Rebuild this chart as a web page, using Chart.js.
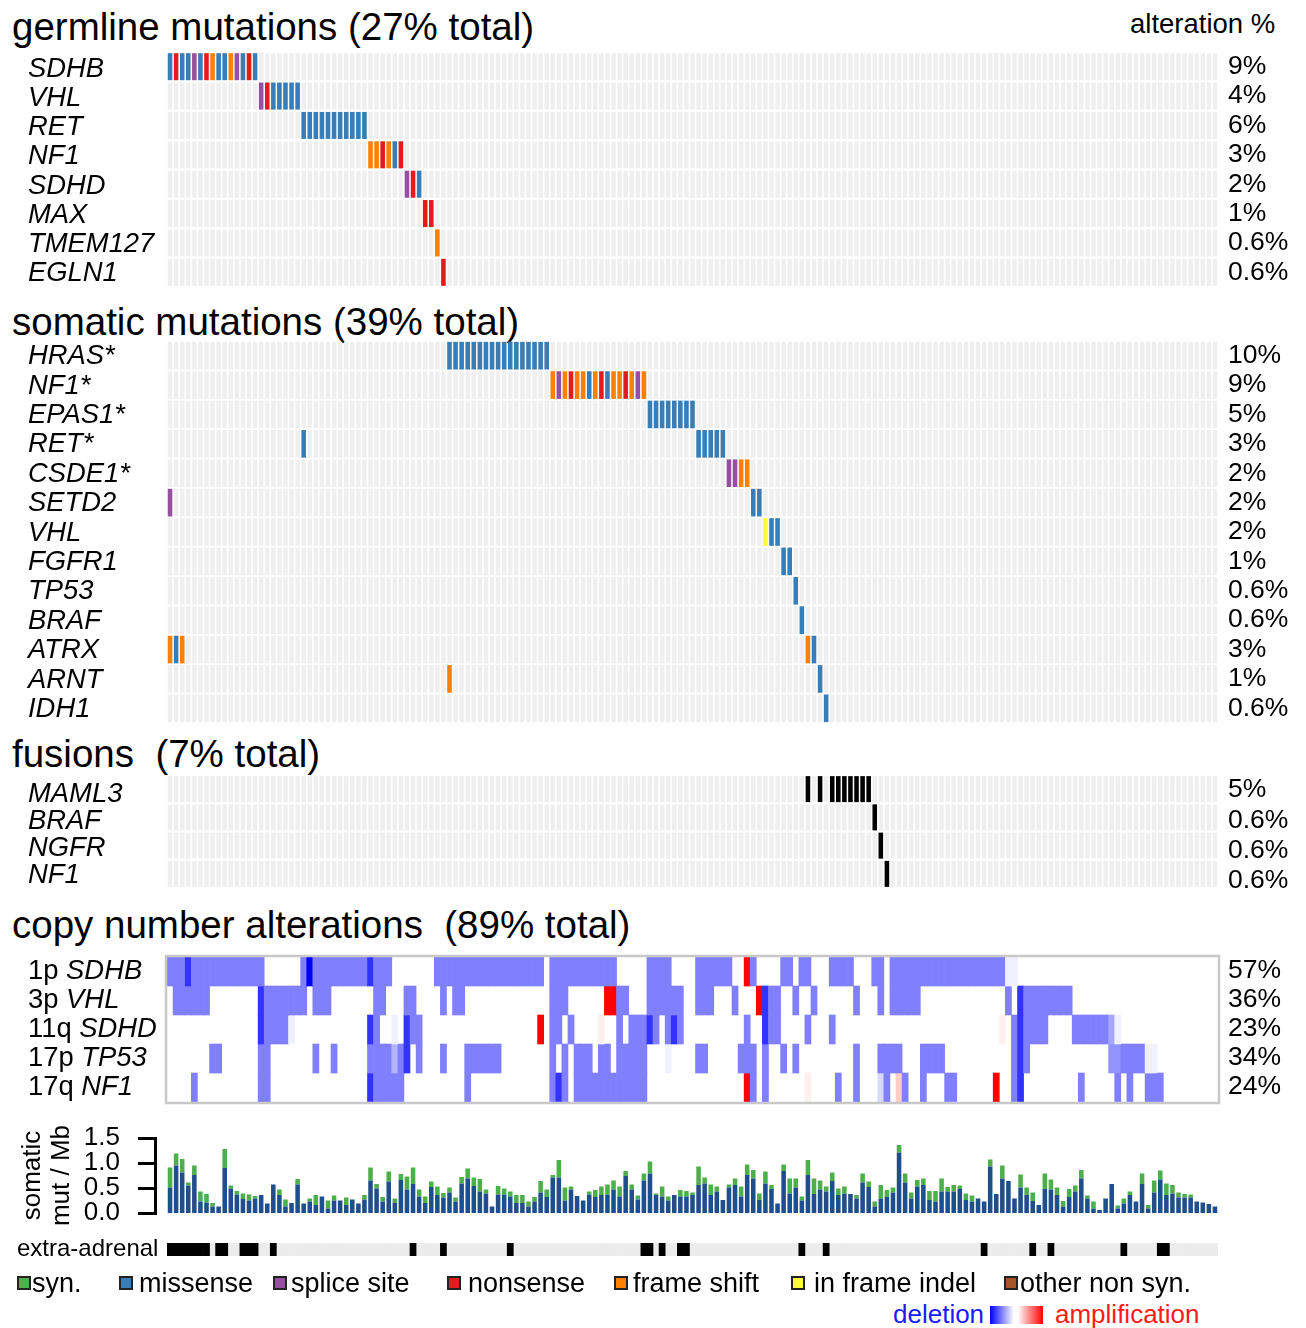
<!DOCTYPE html>
<html><head><meta charset="utf-8">
<script src="https://cdn.jsdelivr.net/npm/chart.js@4.4.1/dist/chart.umd.min.js"></script>
<style>
html,body{margin:0;padding:0;background:#fff;}
body{width:1306px;height:1328px;position:relative;overflow:hidden;font-family:"Liberation Sans",Arial,Helvetica,sans-serif;color:#000;}
.abs{position:absolute;white-space:pre;}
canvas{position:absolute;left:0;}
.title{font-size:38.5px;line-height:38px;left:12px;}
.lg{font-size:27px;line-height:26px;top:1270px;}
.sq{position:absolute;top:1276px;width:10px;height:10px;border:2px solid #222;}
</style></head><body>
<div class="abs title" style="top:8px">germline mutations (27% total)</div>
<div class="abs" style="left:1130px;top:11px;font-size:27.5px;line-height:26px">alteration %</div>
<div class="abs title" style="top:303px">somatic mutations (39% total)</div>
<div class="abs title" style="top:735px">fusions  (7% total)</div>
<div class="abs title" style="top:906px">copy number alterations  (89% total)</div>

<canvas id="cGerm" width="1306" height="259" style="top:40px"></canvas>
<canvas id="cSom" width="1306" height="406" style="top:329px"></canvas>
<canvas id="cFus" width="1306" height="137" style="top:763px"></canvas>
<canvas id="cCna" width="1306" height="169" style="top:945px"></canvas>
<canvas id="cBur" width="1306" height="143" style="top:1104px"></canvas>
<canvas id="cAxis" width="160" height="143" style="top:1104px"></canvas>
<canvas id="cExt" width="1306" height="33" style="top:1233px"></canvas>

<div id="legend"></div>
<div class="abs" style="left:893px;top:1301px;font-size:26px;line-height:26px;color:#1a1aff">deletion</div>
<div class="abs" style="left:990px;top:1306px;width:53px;height:18px;background:linear-gradient(to right,#0000ff 0%,#ffffff 45%,#ffffff 52%,#ff0000 100%)"></div>
<div class="abs" style="left:1055px;top:1301px;font-size:26px;line-height:26px;color:#ff1a1a">amplification</div>

<script>
// ---------------- DATA ----------------
const N_SAMPLES = 173;

// mutation type codes: M missense, N nonsense, S splice site, F frame shift, I in frame indel, O other non syn., K fusion
const germlineGenes = ['SDHB','VHL','RET','NF1','SDHD','MAX','TMEM127','EGLN1'];
const germlinePct = ['9%','4%','6%','3%','2%','1%','0.6%','0.6%'];
const germSDHB = [[0,'M'],[1,'N'],[2,'M'],[3,'M'],[4,'S'],[5,'M'],[6,'N'],[7,'F'],[8,'M'],[9,'M'],[10,'F'],[11,'S'],[12,'M'],[13,'N'],[14,'M']];
const germVHL = [[15,'S'],[16,'N'],[17,'M'],[18,'M'],[19,'M'],[20,'M'],[21,'M']];
const germRET = [[22,'M'],[23,'M'],[24,'M'],[25,'M'],[26,'M'],[27,'M'],[28,'M'],[29,'M'],[30,'M'],[31,'M'],[32,'M']];
const germNF1 = [[33,'F'],[34,'F'],[35,'N'],[36,'F'],[37,'M'],[38,'N']];
const germSDHD = [[39,'S'],[40,'N'],[41,'M']];
const germMAX = [[42,'N'],[43,'N']];
const germTMEM127 = [[44,'F']];
const germEGLN1 = [[45,'N']];

const somaticGenes = ['HRAS*','NF1*','EPAS1*','RET*','CSDE1*','SETD2','VHL','FGFR1','TP53','BRAF','ATRX','ARNT','IDH1'];
const somaticPct = ['10%','9%','5%','3%','2%','2%','2%','1%','0.6%','0.6%','3%','1%','0.6%'];
const somHRAS = [[46,'M'],[47,'M'],[48,'M'],[49,'M'],[50,'M'],[51,'M'],[52,'M'],[53,'M'],[54,'M'],[55,'M'],[56,'M'],[57,'M'],[58,'M'],[59,'M'],[60,'M'],[61,'M'],[62,'M']];
const somNF1 = [[63,'F'],[64,'S'],[65,'F'],[66,'N'],[67,'F'],[68,'F'],[69,'M'],[70,'F'],[71,'N'],[72,'M'],[73,'F'],[74,'F'],[75,'N'],[76,'F'],[77,'S'],[78,'F']];
const somEPAS1 = [[79,'M'],[80,'M'],[81,'M'],[82,'M'],[83,'M'],[84,'M'],[85,'M'],[86,'M']];
const somRET = [[22,'M'],[87,'M'],[88,'M'],[89,'M'],[90,'M'],[91,'M']];
const somCSDE1 = [[92,'S'],[93,'S'],[94,'F'],[95,'F']];
const somSETD2 = [[0,'S'],[96,'M'],[97,'M']];
const somVHL = [[98,'I'],[99,'M'],[100,'M']];
const somFGFR1 = [[101,'M'],[102,'M']];
const somTP53 = [[103,'M']];
const somBRAF = [[104,'M']];
const somATRX = [[0,'F'],[1,'M'],[2,'F'],[105,'F'],[106,'M']];
const somARNT = [[46,'F'],[107,'M']];
const somIDH1 = [[108,'M']];

const fusionGenes = ['MAML3','BRAF','NGFR','NF1'];
const fusionPct = ['5%','0.6%','0.6%','0.6%'];
const fusMAML3 = [105,107,109,110,111,112,113,114,115];
const fusBRAF = [116];
const fusNGFR = [117];
const fusNF1 = [118];

// copy number: [fromSample, toSample, level]  (negative = deletion, positive = amplification)
const cnaArms = ['1p','3p','11q','17p','17q'];
const cnaGenes = ['SDHB','VHL','SDHD','TP53','NF1'];
const cnaPct = ['57%','36%','23%','34%','24%'];
const cna1p = [[0,2,-1],[3,3,-1.6],[4,15,-1],[22,22,-1],[23,23,-2],[24,32,-1],[33,33,-1.6],[34,36,-1],[44,61,-1],[63,73,-1],[79,82,-1],[87,92,-1],[95,95,2],[96,96,-1],[101,102,-1],[104,105,-1],[109,112,-1],[116,117,-1],[119,137,-1],[138,139,-0.12]];
const cna3p = [[1,6,-1],[15,15,-1.6],[16,22,-1],[24,26,-1],[34,35,-1],[39,40,-1],[45,45,-1],[47,48,-1],[63,65,-1],[72,73,2],[74,75,-1],[79,84,-1],[87,89,-1],[93,93,-1],[97,97,2],[98,98,-1.6],[99,100,-1],[103,103,-1],[106,106,-1],[113,113,-1],[117,117,-1],[119,123,-1],[138,138,-1],[140,140,-1.6],[141,148,-1]];
const cna11q = [[15,15,-1.6],[16,19,-1],[20,20,-0.12],[33,33,-1.6],[34,34,-1],[37,37,-0.12],[39,39,-1.6],[40,41,-1],[61,61,2],[63,64,-1],[66,66,-1],[71,71,0.12],[74,74,-1],[76,78,-1],[79,79,-1.6],[80,80,-1],[82,82,-1],[83,83,-1.6],[84,84,-1],[95,95,-1],[98,98,-1.6],[99,100,-1],[105,105,-1],[109,109,-1],[137,137,0.12],[139,139,-1],[140,140,-1.6],[141,144,-1],[149,154,-1],[155,155,-0.7],[156,156,-0.12]];
const cna17p = [[7,8,-1],[15,16,-1],[24,24,-1],[27,27,-1],[33,36,-1],[37,37,-0.6],[38,38,-1],[39,39,-1.6],[41,41,-1],[45,45,-1],[49,54,-1],[63,63,-1],[65,65,-1],[67,69,-1],[71,72,-1],[74,78,-1],[82,82,-0.12],[87,88,-1],[94,96,-1],[98,98,-1],[101,101,-1],[103,103,-1],[113,113,-1],[117,120,-1],[124,127,-1],[139,139,-1],[140,140,-1.6],[141,141,-1],[155,156,-0.85],[157,160,-1],[161,162,-0.12]];
const cna17q = [[4,4,-1],[15,16,-1],[33,33,-1.6],[34,38,-1],[49,49,-1],[63,63,-1],[64,64,-1.6],[65,65,-1],[67,78,-1],[95,95,2],[96,96,-1],[98,98,-1],[105,105,0.12],[110,110,-1],[113,113,-1],[117,117,-0.3],[118,118,-1],[120,120,0.4],[121,121,-1],[124,124,-1],[128,129,-1],[136,136,2],[139,139,-1],[140,140,-1.6],[150,150,-1],[156,156,-1],[158,158,-1],[161,163,-1]];

// somatic mutations per Mb
const burdenNonsyn = [0.51,0.95,0.81,0.55,0.76,0.23,0.21,0.13,0.13,0.90,
0.48,0.37,0.28,0.25,0.29,0.36,0.19,0.57,0.36,0.13,
0.20,0.57,0.19,0.23,0.16,0.33,0.09,0.25,0.25,0.16,
0.27,0.19,0.27,0.65,0.49,0.23,0.63,0.20,0.66,0.47,
0.58,0.33,0.20,0.52,0.36,0.31,0.41,0.23,0.59,0.69,
0.54,0.43,0.39,0.13,0.37,0.37,0.33,0.20,0.20,0.13,
0.23,0.41,0.32,0.71,0.71,0.25,0.47,0.34,0.25,0.37,
0.32,0.36,0.37,0.47,0.33,0.74,0.47,0.27,0.65,0.79,
0.36,0.33,0.25,0.36,0.33,0.33,0.36,0.56,0.59,0.36,
0.43,0.26,0.51,0.56,0.33,0.76,0.69,0.26,0.59,0.48,
0.19,0.84,0.39,0.51,0.25,0.76,0.38,0.47,0.43,0.64,
0.36,0.39,0.38,0.29,0.61,0.52,0.13,0.29,0.32,0.41,
1.21,0.61,0.29,0.53,0.56,0.26,0.23,0.43,0.43,0.43,
0.48,0.26,0.23,0.29,0.23,0.93,0.38,0.69,0.64,0.29,
0.51,0.36,0.24,0.16,0.48,0.47,0.36,0.13,0.32,0.43,
0.69,0.29,0.09,0.06,0.29,0.58,0.09,0.19,0.36,0.23,
0.58,0.09,0.41,0.67,0.36,0.39,0.31,0.31,0.31,0.23,
0.21,0.18,0.13];
const burdenSyn = [0.40,0.24,0.27,0.06,0.19,0.20,0.17,0.07,0,0.38,
0.07,0.07,0.11,0.12,0.05,0,0,0,0.11,0.14,
0,0.11,0,0.06,0.20,0,0.16,0.10,0,0.15,
0,0,0.09,0.26,0.09,0.09,0.20,0.09,0.12,0.26,
0.33,0.14,0.13,0.11,0.17,0.09,0.10,0.08,0.13,0.20,
0.17,0.25,0.08,0,0.17,0.12,0.10,0.16,0.16,0.10,
0.09,0.23,0.15,0.05,0.35,0.26,0.06,0,0,0.06,
0.14,0.17,0.20,0.18,0.20,0.10,0.10,0.08,0.14,0.24,
0.03,0.20,0.08,0,0.13,0.11,0.05,0.37,0.12,0.21,
0.10,0,0.06,0.13,0.20,0.21,0.17,0.13,0.24,0.08,
0,0.13,0.30,0.18,0.08,0.30,0.31,0.18,0.10,0.17,
0.13,0.14,0,0.07,0.18,0.11,0.10,0.27,0.14,0.10,
0.15,0.18,0.12,0.13,0.13,0.18,0.21,0.26,0.09,0.13,
0.07,0.13,0.12,0,0,0.14,0,0.26,0,0,
0.26,0.15,0.17,0,0.31,0.20,0.15,0.11,0.16,0.12,
0.17,0.06,0.14,0,0,0,0.06,0.10,0.07,0,
0.21,0.07,0.24,0.18,0.23,0.17,0.10,0.07,0.06,0,
0,0,0];
const burdenTicks = [0, 0.5, 1.0, 1.5];

const extraAdrenal = [0,1,2,3,4,5,6,8,9,12,13,14,17,40,45,56,78,79,81,84,85,104,108,134,142,145,157,163,164];

// ---------------- STYLE ----------------
const FONT = '"Liberation Sans", Arial, Helvetica, sans-serif';
Chart.defaults.font.family = FONT;
Chart.defaults.color = '#000';
const COLORS = {M:'#377eb8',N:'#e41a1c',S:'#984ea3',F:'#ff7f00',I:'#ffff33',O:'#a65628',K:'#000000'};
const GRID_BG = '#efefef';
const sampleLabels = Array.from({length:N_SAMPLES},(_,i)=>String(i+1));

const rowLabelPlugin = {
  id:'rowLabels',
  afterDraw(chart, args, o){
    if(!o || !o.rows) return;
    const ctx = chart.ctx, y = chart.scales.y;
    ctx.save(); ctx.textBaseline='middle'; ctx.fillStyle='#000';
    o.rows.forEach((row,i)=>{
      const c = y.getPixelForValue(i);
      const py = c + (o.dy||0) + i*(o.dyStep||0);
      let x = o.leftX;
      row.parts.forEach(p=>{
        ctx.font = (p.italic?'italic ':'') + o.size + 'px ' + FONT;
        ctx.fillText(p.text, x, py);
        x += ctx.measureText(p.text).width;
      });
      if(row.right){
        ctx.font = o.rightSize + 'px ' + FONT;
        ctx.fillText(row.right, o.rightX, c + (o.rdy||0) + i*(o.rdyStep||0));
      }
    });
    ctx.restore();
  }
};
const frameBoxPlugin = {
  id:'frameBox',
  afterDraw(chart, args, o){
    if(!o || !o.color) return;
    const a = chart.chartArea, ctx = chart.ctx;
    ctx.save(); ctx.strokeStyle=o.color; ctx.lineWidth=o.width;
    ctx.strokeRect(a.left-1, a.top-1, a.right-a.left+2, a.bottom-a.top+2);
    ctx.restore();
  }
};
Chart.register(rowLabelPlugin, frameBoxPlugin);

function gridDatasets(rows, h){
  const ds=[];
  rows.forEach((muts,r)=>{
    ds.push({data:sampleLabels.map(()=>[r-h,r+h]), backgroundColor:GRID_BG, grouped:false, order:2, barPercentage:0.75, categoryPercentage:1});
    const data=new Array(N_SAMPLES).fill(null), col=new Array(N_SAMPLES).fill('rgba(0,0,0,0)');
    muts.forEach(([i,t])=>{ data[i]=[r-h,r+h]; col[i]=COLORS[t]; });
    ds.push({data, backgroundColor:col, grouped:false, order:1, barPercentage:0.75, categoryPercentage:1});
  });
  return ds;
}
function baseOpts(nRows, pad, labelOpts){
  return {
    responsive:false, animation:false, devicePixelRatio:1, events:[],
    layout:{padding:{left:167,right:88,top:pad,bottom:pad}},
    plugins:{legend:{display:false}, tooltip:{enabled:false}, rowLabels:labelOpts},
    scales:{ x:{display:false, offset:true}, y:{display:false, type:'linear', reverse:true, min:-0.5, max:nRows-0.5} }
  };
}
function geneRows(genes,pct){ return genes.map((g,i)=>({parts:[{text:g,italic:true}], right:pct[i]})); }

new Chart(document.getElementById('cGerm'), {type:'bar',
  data:{labels:sampleLabels, datasets:gridDatasets([germSDHB,germVHL,germRET,germNF1,germSDHD,germMAX,germTMEM127,germEGLN1],0.46)},
  options:baseOpts(8,12,{rows:geneRows(germlineGenes,germlinePct), leftX:28, rightX:1228, size:27.4, rightSize:26.5, dy:2.5, dyStep:-0.2, rdy:0})});

new Chart(document.getElementById('cSom'), {type:'bar',
  data:{labels:sampleLabels, datasets:gridDatasets([somHRAS,somNF1,somEPAS1,somRET,somCSDE1,somSETD2,somVHL,somFGFR1,somTP53,somBRAF,somATRX,somARNT,somIDH1],0.47)},
  options:baseOpts(13,12,{rows:geneRows(somaticGenes,somaticPct), leftX:28, rightX:1228, size:27.4, rightSize:26.5, dy:1, rdy:0})});

new Chart(document.getElementById('cFus'), {type:'bar',
  data:{labels:sampleLabels, datasets:gridDatasets([fusMAML3,fusBRAF,fusNGFR,fusNF1].map(a=>a.map(i=>[i,'K'])),0.46)},
  options:baseOpts(4,12,{rows:geneRows(fusionGenes,fusionPct), leftX:28, rightX:1228, size:27.4, rightSize:26.5, dy:5, dyStep:-1.2, rdy:1, rdyStep:2})});

function cnaColor(v){
  const t=Math.min(1,Math.abs(v)/2), c=Math.round(255*(1-t));
  return v<0 ? `rgb(${c},${c},255)` : `rgb(255,${c},${c})`;
}
const cnaDs=[];
[cna1p,cna3p,cna11q,cna17p,cna17q].forEach((segs,r)=>{
  const vals=new Array(N_SAMPLES).fill(0);
  segs.forEach(([a,b,v])=>{ for(let i=a;i<=b;i++) vals[i]=v; });
  cnaDs.push({data:vals.map(v=>v?[r-0.5,r+0.5]:null), backgroundColor:vals.map(v=>v?cnaColor(v):'rgba(0,0,0,0)'), grouped:false, barPercentage:1, categoryPercentage:1});
});
const cnaOpts = baseOpts(5,12,{rows:cnaArms.map((a,i)=>({parts:[{text:a+' ',italic:false},{text:cnaGenes[i],italic:true}], right:cnaPct[i]})), leftX:28, rightX:1228, size:27.4, rightSize:26.5, dy:0, rdy:-1});
cnaOpts.plugins.frameBox = {color:'#c8c8c8', width:2.5};
new Chart(document.getElementById('cCna'), {type:'bar', data:{labels:sampleLabels, datasets:cnaDs}, options:cnaOpts});

// mutation burden bars (category x, hidden y sharing the same range as the axis chart)
const BUR_PAD = 34;
new Chart(document.getElementById('cBur'), {type:'bar',
  data:{labels:sampleLabels, datasets:[
    {label:'non syn.', data:burdenNonsyn, backgroundColor:'#1f4e8d', barPercentage:0.75, categoryPercentage:1},
    {label:'syn.', data:burdenSyn, backgroundColor:'#4daf4a', barPercentage:0.75, categoryPercentage:1}
  ]},
  options:{responsive:false, animation:false, devicePixelRatio:1, events:[],
    layout:{padding:{left:167,right:88,top:BUR_PAD,bottom:BUR_PAD}},
    plugins:{legend:{display:false}, tooltip:{enabled:false}},
    scales:{ x:{display:false, stacked:true}, y:{display:false, stacked:true, min:burdenTicks[0], max:burdenTicks[burdenTicks.length-1]} }
  }});

// y axis of the burden panel
new Chart(document.getElementById('cAxis'), {type:'bar',
  data:{labels:[''], datasets:[{data:[null]}]},
  options:{responsive:false, animation:false, devicePixelRatio:1, events:[],
    layout:{padding:{left:0,right:3,top:BUR_PAD,bottom:BUR_PAD}},
    plugins:{legend:{display:false}, tooltip:{enabled:false}},
    scales:{
      x:{display:false},
      y:{min:burdenTicks[0], max:burdenTicks[burdenTicks.length-1], afterFit(s){ s.width=155; },
        afterBuildTicks(s){ s.ticks = burdenTicks.map(v=>({value:v})); },
        border:{display:true, color:'#000', width:3},
        grid:{drawOnChartArea:false, drawTicks:true, tickLength:17, color:'#000', lineWidth:3},
        ticks:{padding:18, color:'#000', font:{size:26}, autoSkip:false, callback:v=>Number(v).toFixed(1)},
        title:{display:true, text:['somatic','mut / Mb'], color:'#000', font:{size:26, lineHeight:1.1}, padding:{top:19,bottom:0}}
      }
    }
  }});

const extFlags = new Array(N_SAMPLES).fill(null);
extraAdrenal.forEach(i=>{ extFlags[i]=[-0.5,0.5]; });
new Chart(document.getElementById('cExt'), {type:'bar',
  data:{labels:sampleLabels, datasets:[
    {data:extFlags, backgroundColor:'#000', grouped:false, order:1, barPercentage:1, categoryPercentage:1},
    {data:sampleLabels.map(()=>[-0.5,0.5]), backgroundColor:'#ececec', grouped:false, order:2, barPercentage:1, categoryPercentage:1}
  ]},
  options:(()=>{ const o=baseOpts(1,10,{rows:[{parts:[{text:'extra-adrenal',italic:false}]}], leftX:17, size:24, dy:0}); o.scales.y.min=-0.5; o.scales.y.max=0.5; return o; })()
});

// legend
const legendItems = [['syn.','#4daf4a',17,32],['missense','#377eb8',119,139],['splice site','#984ea3',273,291],['nonsense','#e41a1c',447,468],['frame shift','#ff7f00',614,633],['in frame indel','#ffff33',791,814],['other non syn.','#a65628',1004,1020]];
const lg=document.getElementById('legend');
legendItems.forEach(([t,c,sx,tx])=>{
  const s=document.createElement('div'); s.className='sq'; s.style.left=sx+'px'; s.style.background=c; lg.appendChild(s);
  const d=document.createElement('div'); d.className='abs lg'; d.style.left=tx+'px'; d.textContent=t; lg.appendChild(d);
});
</script>
</body></html>
